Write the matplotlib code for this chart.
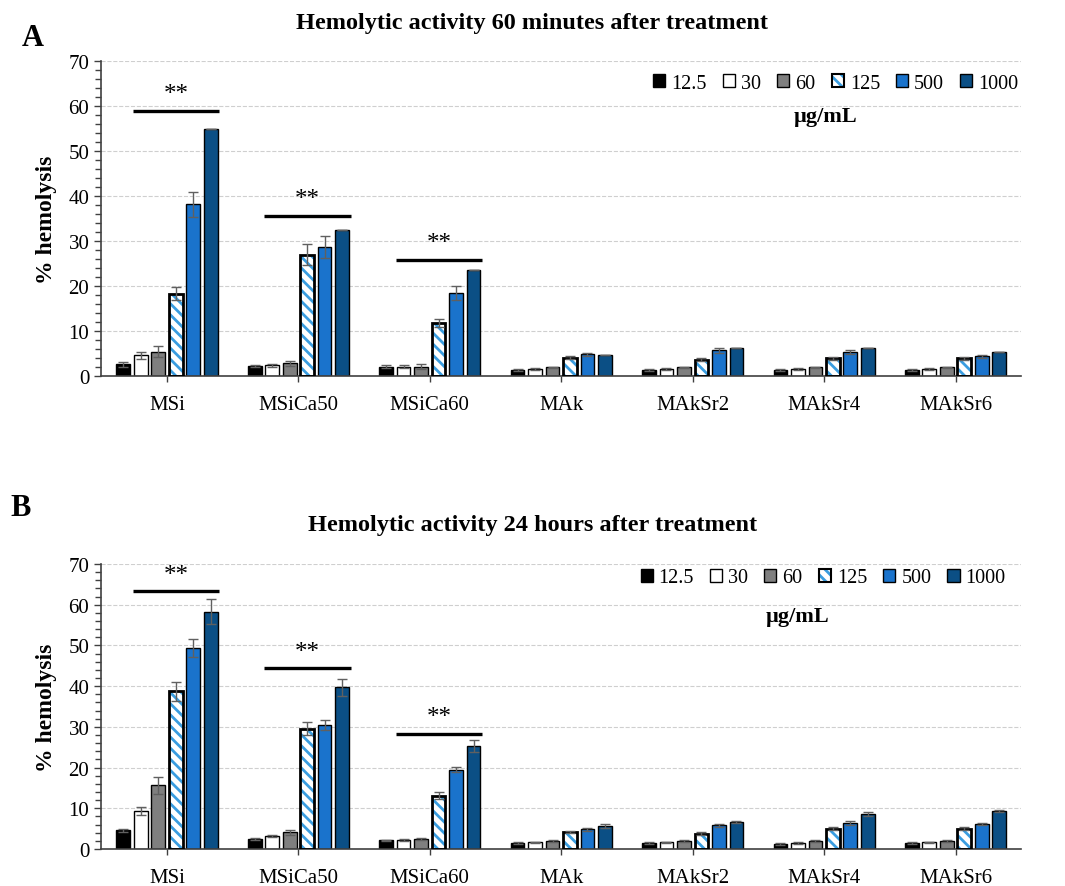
import numpy as np
import matplotlib
matplotlib.use("Agg")
import matplotlib.pyplot as plt
from matplotlib.patches import Patch
from matplotlib.ticker import MultipleLocator

materials = ["MSi", "MSiCa50", "MSiCa60", "MAk", "MAkSr2", "MAkSr4", "MAkSr6"]
doses = ["12.5", "30", "60", "125", "500", "1000"]

# % hemolysis after 60 min, one row per dose (12.5 ... 1000 ug/mL)
hemo_60min = [
    [2.6, 2.2, 2.1, 1.3, 1.3, 1.3, 1.3],
    [4.6, 2.4, 2.1, 1.6, 1.6, 1.6, 1.6],
    [5.4, 2.8, 2.1, 1.9, 1.9, 1.9, 1.9],
    [18.3, 27.0, 11.7, 4.1, 3.6, 3.9, 3.9],
    [38.2, 28.7, 18.4, 4.8, 5.7, 5.3, 4.4],
    [55.0, 32.4, 23.5, 4.6, 6.2, 6.2, 5.3],
]
err_60min = [
    [0.5, 0.3, 0.3, 0.2, 0.2, 0.2, 0.2],
    [0.8, 0.3, 0.3, 0.2, 0.2, 0.2, 0.2],
    [1.2, 0.5, 0.6, 0.2, 0.2, 0.2, 0.2],
    [1.4, 2.3, 0.9, 0.3, 0.3, 0.4, 0.4],
    [2.8, 2.4, 1.5, 0.4, 0.6, 0.4, 0.3],
    [0.0, 0.0, 0.0, 0.0, 0.0, 0.0, 0.0],
]

# % hemolysis after 24 h
hemo_24h = [
    [4.6, 2.4, 2.1, 1.4, 1.4, 1.3, 1.4],
    [9.4, 3.2, 2.2, 1.6, 1.6, 1.5, 1.6],
    [15.6, 4.1, 2.4, 2.0, 2.0, 2.0, 2.0],
    [38.7, 29.6, 13.1, 4.2, 3.8, 5.0, 5.0],
    [49.3, 30.4, 19.5, 4.8, 5.8, 6.3, 6.1],
    [58.3, 39.7, 25.3, 5.6, 6.6, 8.6, 9.4],
]
err_24h = [
    [0.3, 0.2, 0.2, 0.2, 0.2, 0.2, 0.2],
    [1.0, 0.3, 0.2, 0.2, 0.2, 0.2, 0.2],
    [2.0, 0.6, 0.3, 0.2, 0.2, 0.2, 0.2],
    [2.3, 1.7, 0.8, 0.3, 0.3, 0.4, 0.4],
    [2.2, 1.2, 0.6, 0.3, 0.3, 0.5, 0.3],
    [3.0, 2.0, 1.5, 0.5, 0.3, 0.5, 0.3],
]

# significance bars: (material index, bar height)
sig_60min = [(0, 58.8), (1, 35.6), (2, 25.7)]
sig_24h = [(0, 63.3), (1, 44.4), (2, 28.3)]

colors = ["#000000", "#ffffff", "#7f7f7f", "#ffffff", "#1a73cc", "#0b4f85"]
hatch_blue = "#3a9de0"
serif = ["Liberation Serif", "DejaVu Serif"]

plt.rcParams["font.family"] = serif
plt.rcParams["hatch.linewidth"] = 2.0


def draw_panel(ax, vals, errs, sigs, leg_xy, unit_xy):
    x = np.arange(len(materials))
    step = 0.133
    w = 0.105
    for i in range(len(doses)):
        pos = x + (i - 2.5) * step
        if i == 3:
            ax.bar(pos, vals[i], w, color="white", edgecolor=hatch_blue,
                   hatch="\\\\\\", linewidth=0, zorder=2)
            ax.bar(pos, vals[i], w, fill=False, edgecolor="black",
                   linewidth=2.0, zorder=3)
        else:
            ax.bar(pos, vals[i], w, color=colors[i], edgecolor="black",
                   linewidth=1.0, zorder=2)
        ax.errorbar(pos, vals[i], yerr=errs[i], fmt="none", ecolor="#606060",
                    elinewidth=1.0, capsize=3.5, capthick=1.0, zorder=4)

    for idx, h in sigs:
        ax.plot([idx - 0.26, idx + 0.40], [h, h], color="black", lw=2.4,
                solid_capstyle="butt", zorder=5)
        ax.text(idx + 0.07, h + 1.4, "**", ha="center", va="bottom",
                fontsize=18, zorder=5)

    ax.set_xlim(-0.5, len(materials) - 0.5)
    ax.set_ylim(0, 70)
    ax.set_xticks(x)
    ax.set_xticklabels(materials, fontsize=15)
    ax.yaxis.set_major_locator(MultipleLocator(10))
    ax.yaxis.set_minor_locator(MultipleLocator(2))
    ax.tick_params(axis="y", which="major", labelsize=15, length=5,
                   width=1, color="#404040")
    ax.tick_params(axis="y", which="minor", length=4, width=1,
                   color="#404040")
    ax.tick_params(axis="x", length=4, width=1, color="#404040", pad=10)
    ax.grid(axis="y", which="major", color="#cfcfcf", linestyle="--",
            linewidth=0.8, zorder=0)
    ax.set_axisbelow(True)
    for s in ["top", "right"]:
        ax.spines[s].set_visible(False)
    for s in ["left", "bottom"]:
        ax.spines[s].set_color("#404040")
        ax.spines[s].set_linewidth(1.2)
    ax.set_ylabel("% hemolysis", fontsize=17, fontweight="bold", labelpad=8)

    handles = []
    for i in range(len(doses)):
        if i == 3:
            handles.append((Patch(facecolor="white", edgecolor=hatch_blue,
                                  hatch="\\\\\\", linewidth=0),
                            Patch(fill=False, edgecolor="black",
                                  linewidth=1.5)))
        else:
            handles.append(Patch(facecolor=colors[i], edgecolor="black",
                                 linewidth=1.0))
    ax.legend(handles, doses, ncol=6, loc="center right",
              bbox_to_anchor=leg_xy, frameon=False, fontsize=14.5,
              handlelength=0.6, handleheight=0.6, handletextpad=0.3,
              columnspacing=0.8, borderaxespad=0, borderpad=0)
    ax.text(unit_xy[0], unit_xy[1], "\u00b5g/mL", transform=ax.transAxes,
            ha="center", va="center", fontsize=16, fontweight="bold")


fig = plt.figure(figsize=(10.65, 8.87), dpi=100)
ax_a = fig.add_axes([0.095, 0.575, 0.864, 0.355])
ax_b = fig.add_axes([0.095, 0.0417, 0.864, 0.3213])

draw_panel(ax_a, hemo_60min, err_60min, sig_60min, (0.997, 0.93), (0.787, 0.825))
draw_panel(ax_b, hemo_24h, err_24h, sig_24h, (0.983, 0.951), (0.757, 0.818))

fig.text(0.5, 0.9735, "Hemolytic activity 60 minutes after treatment",
         fontsize=17.5, fontweight="bold", ha="center", va="center")
fig.text(0.5, 0.408, "Hemolytic activity 24 hours after treatment",
         fontsize=17.5, fontweight="bold", ha="center", va="center")

fig.text(0.020, 0.957, "A", fontsize=22, fontweight="bold", ha="left",
         va="center")
fig.text(0.010, 0.427, "B", fontsize=22, fontweight="bold", ha="left",
         va="center")

fig.savefig("out.png", dpi=100)
